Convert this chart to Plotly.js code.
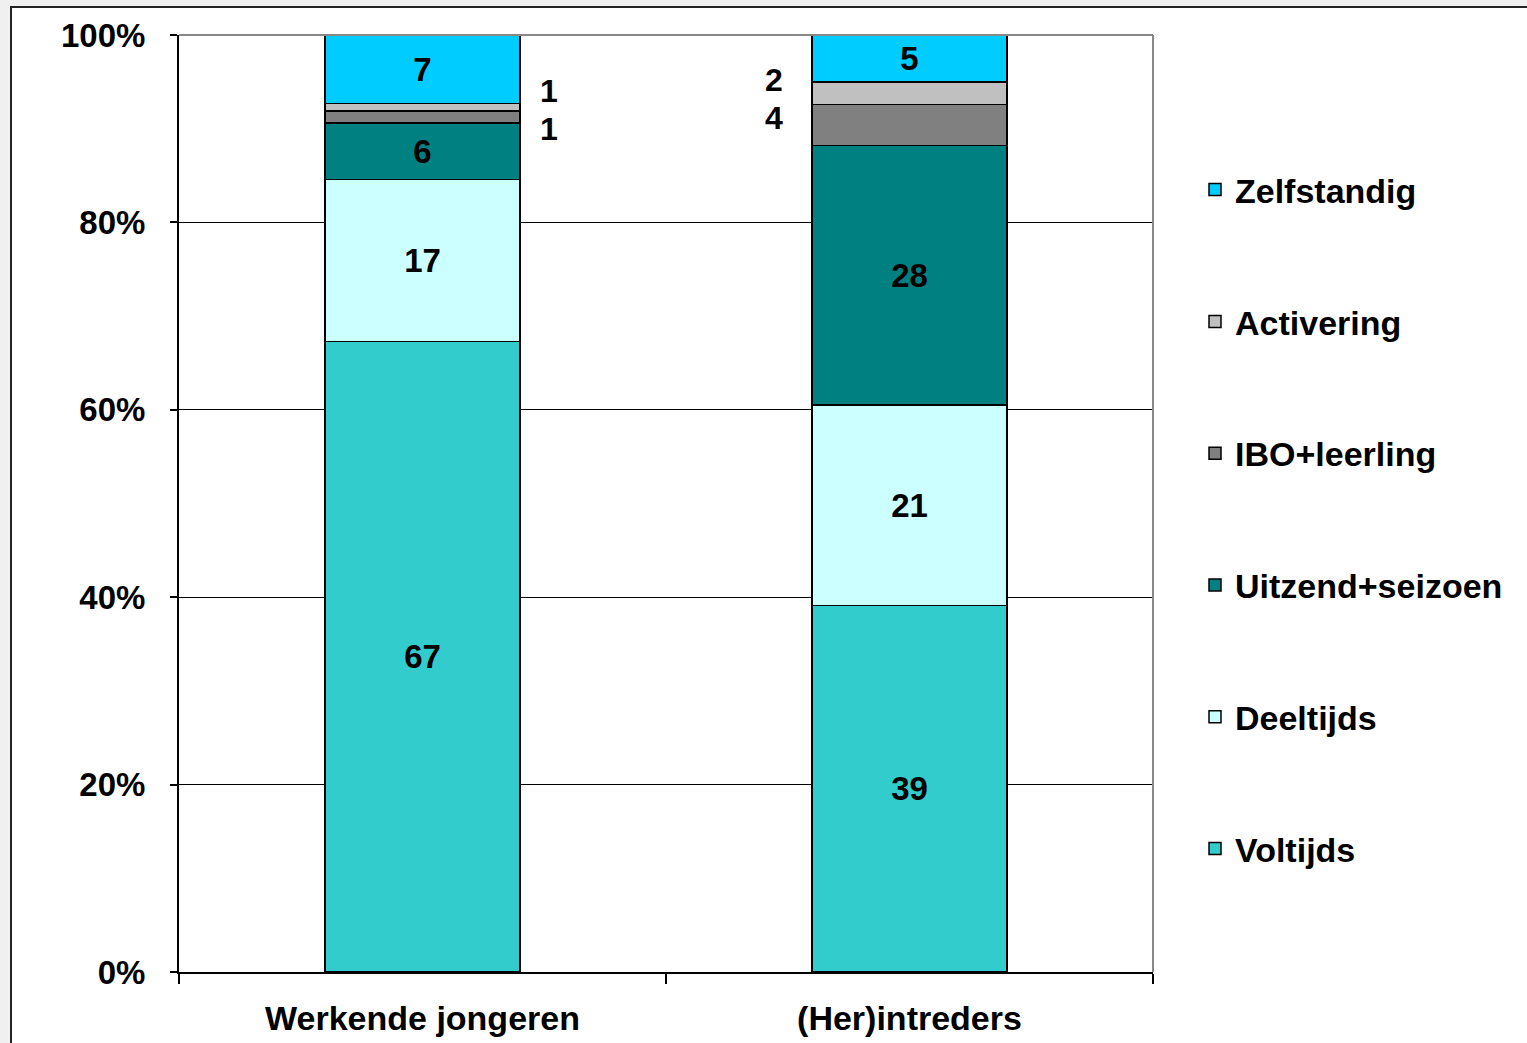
<!DOCTYPE html>
<html>
<head>
<meta charset="utf-8">
<script src="https://cdn.plot.ly/plotly-3.0.1.min.js"></script>
<style>
  html, body { margin: 0; padding: 0; background: #f0f0f0; overflow: hidden; }
  #chart { width: 1527px; height: 1043px; }
</style>
</head>
<body>
<div id="chart"></div>
<script>
// ---- data ----
const categories = ['Werkende jongeren', '(Her)intreders'];
const seriesNames = ['Voltijds', 'Deeltijds', 'Uitzend+seizoen', 'IBO+leerling', 'Activering', 'Zelfstandig'];
const voltijds    = [67.3, 39.1];
const deeltijds   = [17.3, 21.4];
const uitzend     = [6.0, 27.7];
const iboLeerling = [1.3, 4.4];
const activering  = [0.8, 2.4];
const zelfstandig = [7.3, 5.0];
const yTickVals   = [0, 20, 40, 60, 80, 100];

// ---- styling ----
const seriesValues = [voltijds, deeltijds, uitzend, iboLeerling, activering, zelfstandig];
const colors = ['#33CCCC', '#CCFFFF', '#008080', '#808080', '#C0C0C0', '#00CCFF'];
const insideLabel = [true, true, true, false, false, true];
const FONT = 'Liberation Sans, Arial, sans-serif';
const FS = 33;
// outside label placement (pixel shifts relative to segment middle)
const outsideStyle = [
  { s: 4, c: 0, dx: 126, dy: 16 },
  { s: 3, c: 0, dx: 126, dy: -12 },
  { s: 4, c: 1, dx: -136, dy: 13 },
  { s: 3, c: 1, dx: -136, dy: 7 }
];

const traces = seriesNames.map((name, i) => ({
  type: 'bar',
  name: name,
  legendgroup: name,
  legendrank: seriesNames.length - i,
  x: categories,
  y: seriesValues[i],
  text: insideLabel[i] ? seriesValues[i].map(v => String(Math.round(v))) : seriesValues[i].map(() => ''),
  textposition: 'inside',
  insidetextanchor: 'middle',
  constraintext: 'none',
  textangle: 0,
  textfont: { family: FONT, size: FS, color: '#000', weight: 'bold' },
  marker: { color: colors[i], line: { color: '#000', width: 1.5 } },
  hoverinfo: 'name+y'
}));

function segMid(s, c) {
  let base = 0;
  for (let k = 0; k < s; k++) base += seriesValues[k][c];
  return base + seriesValues[s][c] / 2;
}
const annotations = outsideStyle.map(o => ({
  x: categories[o.c], xref: 'x',
  y: segMid(o.s, o.c), yref: 'y',
  xshift: o.dx, yshift: o.dy,
  text: String(Math.round(seriesValues[o.s][o.c])),
  showarrow: false,
  font: { family: FONT, size: 32, color: '#000', weight: 'bold' }
}));

const L = 179, R = 374, T = 35, B = 71, W = 1527, H = 1043;
const pw = W - L - R, ph = H - T - B;
const px = v => (v - L) / pw;
const py = v => (H - B - v) / ph;

const layout = {
  width: W, height: H,
  margin: { l: L, r: R, t: T, b: B, pad: 0 },
  paper_bgcolor: '#f0f0f0',
  plot_bgcolor: 'rgba(0,0,0,0)',
  barmode: 'stack',
  bargap: 0.6,
  font: { family: FONT, size: FS, color: '#000', weight: 'bold' },
  showlegend: true,
  legend: {
    x: px(1195), xanchor: 'left',
    y: py(161), yanchor: 'top',
    traceorder: 'grouped',
    tracegroupgap: 84.6,
    font: { family: FONT, size: 34, color: '#000', weight: 'bold' },
    bgcolor: 'rgba(0,0,0,0)',
    borderwidth: 0
  },
  xaxis: {
    type: 'category',
    showline: true, linecolor: '#000', linewidth: 2,
    ticks: 'outside', tickson: 'boundaries', ticklen: 10, tickcolor: '#000', tickwidth: 2,
    ticklabelstandoff: 15,
    tickfont: { family: FONT, size: 34, color: '#000', weight: 'bold' },
    showgrid: false,
    fixedrange: true
  },
  yaxis: {
    range: [0, 100],
    tickvals: yTickVals,
    ticktext: yTickVals.map(v => v + '%'),
    showline: true, linecolor: '#000', linewidth: 2,
    ticks: 'outside', ticklen: 7, tickcolor: '#000', tickwidth: 2,
    ticklabelstandoff: 18,
    tickfont: { family: FONT, size: 33, color: '#000', weight: 'bold' },
    showgrid: true, gridcolor: '#000', gridwidth: 1,
    zeroline: false,
    fixedrange: true
  },
  shapes: [
    { type: 'rect', xref: 'paper', yref: 'paper', layer: 'below',
      x0: px(11), x1: px(1560), y0: py(1080), y1: py(7),
      fillcolor: '#ffffff', line: { color: '#222', width: 2 } },
    { type: 'line', xref: 'paper', yref: 'paper', layer: 'above',
      x0: 0, x1: 1, y0: 1, y1: 1, line: { color: '#888', width: 2 } },
    { type: 'line', xref: 'paper', yref: 'paper', layer: 'above',
      x0: 1, x1: 1, y0: 0, y1: 1, line: { color: '#888', width: 2 } }
  ],
  annotations: annotations
};

Plotly.newPlot('chart', traces, layout, { displayModeBar: false, staticPlot: true });
</script>
</body>
</html>
